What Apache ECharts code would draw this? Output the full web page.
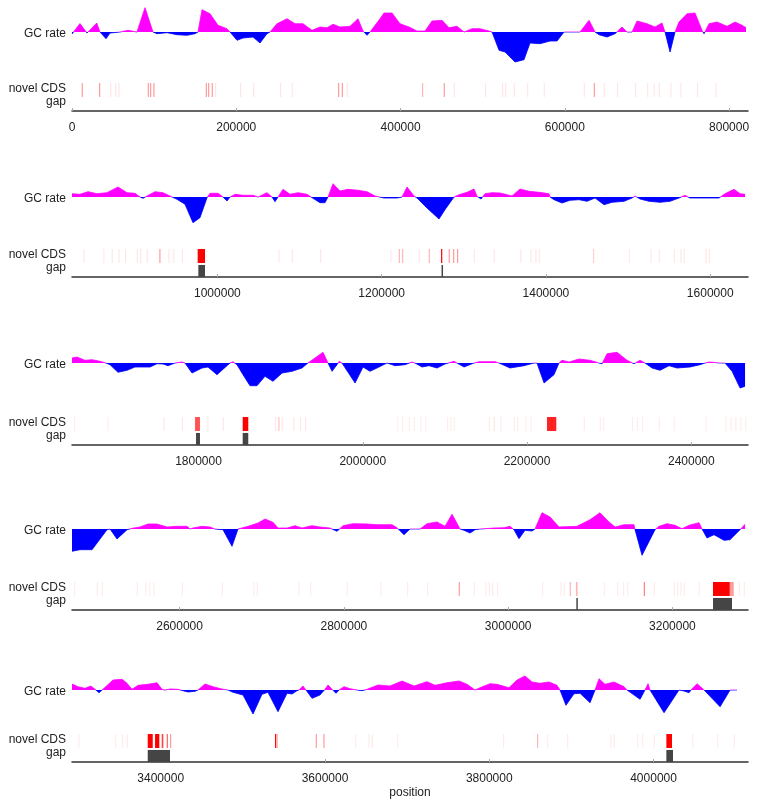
<!DOCTYPE html>
<html><head><meta charset="utf-8">
<script src="https://cdn.jsdelivr.net/npm/echarts@6/dist/echarts.min.js"></script>
<style>html,body{margin:0;padding:0;background:#fff}#c{width:757px;height:808px}</style>
</head><body><div id="c"></div>
<script>
// ---------------- data ----------------
const panelSize = 823000;
const panelStarts = [0, 823000, 1646000, 2469000, 3292000];
const tickLabels = [
  [0, 200000, 400000, 600000, 800000],
  [1000000, 1200000, 1400000, 1600000],
  [1800000, 2000000, 2200000, 2400000],
  [2600000, 2800000, 3000000, 3200000],
  [3400000, 3600000, 3800000, 4000000]
];
// GC rate deviation (percentage points) : [position, value]
const gc1 = [[0,-0.2],[9700,0.84],[18300,-0.1],[30100,0.9],[34100,0],[41400,-0.67],[46300,-0.1],[58400,0],[68200,0.17],[79100,0],[88900,2.43],[98600,0],[103500,-0.17],[115700,-0.07],[127800,-0.27],[140000,-0.33],[149800,-0.17],[153400,0],[158300,2.23],[168000,1.83],[177800,0.67],[188700,0.33],[192400,0],[200900,-0.83],[208200,-0.6],[220400,-0.5],[228900,-1.1],[237400,-0.17],[241100,0],[249600,0.83],[261800,1.33],[271500,0.83],[281200,0.83],[292200,0.17],[301900,0.5],[310500,0.43],[317800,0.77],[326300,0.5],[338500,0.57],[348200,1.33],[354300,0.1],[359200,-0.33],[362800,0],[375000,1.33],[379900,1.9],[389600,1.9],[399300,0.83],[410300,0.5],[420000,0.1],[429800,0.1],[438300,1.1],[450500,1.17],[459000,0.43],[468700,0.57],[477300,0],[479700,-0.1],[487000,0.33],[496700,0.33],[508900,0.07],[511400,0],[519900,-1.83],[527200,-2.0],[539400,-3.0],[550300,-2.77],[557600,-1.1],[569800,-1.17],[582000,-0.9],[590500,-0.9],[599000,0],[618500,0],[629500,1.17],[636800,0],[641600,-0.27],[651400,-0.5],[661100,-0.17],[663500,0],[669600,0.5],[675700,0],[678100,-0.17],[681800,0],[687900,1.1],[700100,0.83],[709800,0.5],[718300,0.9],[722000,0],[728100,-2.0],[734200,0],[739000,1.0],[748800,1.83],[758500,1.9],[767000,0.17],[769500,-0.17],[775500,0.83],[785300,1.0],[797500,0.57],[807200,1.0],[815700,0.67],[820600,0.43]];
const gc2 = [[823000,0.33],[832700,0.27],[842500,0.53],[853400,0.33],[865600,0.43],[879000,1.0],[890000,0.43],[899700,0.37],[905800,0],[909400,-0.13],[914300,0.1],[924100,0.53],[933800,0.43],[944800,0],[950800,-0.23],[960600,-0.73],[970300,-2.57],[978800,-2.07],[987400,-0.07],[991000,0.37],[1000800,0.37],[1006800,0],[1011700,-0.4],[1015400,0],[1021500,0.27],[1031200,0.17],[1043400,0.17],[1049500,0],[1060400,0.43],[1066500,0],[1070200,-0.47],[1073800,0],[1079900,0.77],[1088400,0.27],[1098200,0.43],[1109100,0.27],[1116400,-0.13],[1124900,-0.57],[1131000,-0.57],[1134700,0],[1140800,1.33],[1149300,0.6],[1159000,0.77],[1171200,0.67],[1182200,0.53],[1191900,0.1],[1194300,0],[1202900,-0.1],[1218700,-0.1],[1224800,0],[1230900,1.0],[1239400,0.1],[1243000,-0.1],[1255200,-1.1],[1269800,-2.2],[1277100,-1.27],[1288100,0],[1294200,0.23],[1303900,0.47],[1312400,0.8],[1316100,0.07],[1321000,-0.2],[1325800,0.33],[1334400,0.43],[1344100,0.4],[1358700,0.1],[1368400,0.8],[1379400,0.57],[1391600,0.47],[1403700,0.33],[1405000,0],[1409800,-0.27],[1419600,-0.6],[1429300,-0.33],[1440300,-0.27],[1450000,-0.43],[1459800,-0.1],[1470700,-0.77],[1480500,-0.53],[1495100,-0.43],[1504800,-0.1],[1508500,0.1],[1514600,-0.2],[1525500,-0.43],[1538900,-0.53],[1551100,-0.43],[1562000,-0.1],[1569300,0.17],[1575400,-0.1],[1590000,-0.1],[1610700,-0.1],[1618000,0.33],[1629000,0.77],[1636300,0.33],[1642400,0.27]];
const gc3 = [[1646000,0.5],[1652100,0.6],[1661800,0.27],[1670400,0.33],[1680100,0.17],[1687400,0],[1692300,-0.17],[1702000,-0.93],[1713000,-0.73],[1722700,-0.4],[1741000,-0.4],[1749500,-0.07],[1751900,0.07],[1756800,-0.1],[1762900,-0.27],[1771400,0],[1779900,0.1],[1783600,0],[1792100,-1.0],[1804300,-0.5],[1811600,-0.4],[1822500,-1.17],[1838400,0],[1842000,0.13],[1846900,-0.17],[1854200,-1.17],[1862700,-2.27],[1871200,-2.27],[1881000,-1.33],[1890700,-1.83],[1901700,-1.0],[1913900,-0.83],[1926000,-0.5],[1933300,0],[1951600,1.07],[1957700,0],[1962600,-0.83],[1968600,-0.17],[1971100,0.17],[1974700,0],[1990600,-2.0],[2000300,-0.4],[2008800,-0.83],[2017300,-0.5],[2029500,0],[2039300,-0.27],[2051400,-0.17],[2060000,0.1],[2063600,0],[2072100,-0.4],[2080700,-0.27],[2090400,-0.5],[2100100,-0.1],[2111100,0.17],[2114700,0],[2123300,-0.4],[2135400,0],[2141500,0.13],[2161000,0.13],[2165900,0],[2179300,-0.5],[2196300,-0.27],[2208500,0],[2212100,0],[2220700,-2.0],[2232800,-1.17],[2238900,0],[2242600,0.27],[2251100,0.1],[2263300,0.4],[2276700,0.27],[2287600,0],[2291300,-0.07],[2297400,0.93],[2309500,1.07],[2321700,0.27],[2330200,-0.07],[2337500,0.27],[2343600,0],[2352200,-0.5],[2361900,-0.73],[2372800,-0.27],[2382600,-0.5],[2398400,-0.4],[2410600,-0.17],[2416700,0],[2421500,0.1],[2434900,0],[2441000,0],[2449600,-0.83],[2459300,-2.5],[2465400,-2.33]];
const gc4 = [[2469000,-2.23],[2478700,-2.07],[2493400,-2.07],[2511600,-0.07],[2515300,0],[2523800,-1.0],[2536000,-0.07],[2542100,0.07],[2551800,0.2],[2561500,0.5],[2572500,0.5],[2584700,0.2],[2596800,0.27],[2609000,0.27],[2612700,0],[2616300,0.1],[2627300,0.27],[2637000,0.2],[2643100,0],[2652800,-0.07],[2663800,-1.73],[2671100,0],[2683300,0.27],[2695500,0.6],[2704000,1.0],[2713700,0.67],[2719800,0.1],[2730800,0.1],[2740500,0.33],[2749000,0.1],[2761200,0.33],[2770900,0.2],[2783100,0.1],[2791600,-0.23],[2799000,0.33],[2811100,0.53],[2828200,0.5],[2840300,0.43],[2858600,0.43],[2864700,0.13],[2867100,-0.07],[2873200,-0.57],[2880500,0],[2892700,0],[2901200,0.53],[2913400,0.7],[2923100,0.27],[2931700,1.47],[2941400,0],[2946300,-0.13],[2953600,-0.4],[2959700,-0.07],[2965700,0],[2982800,0.1],[2995000,0.13],[3002300,0.27],[3007100,-0.07],[3013200,-0.97],[3020500,-0.13],[3029100,-0.2],[3032700,0],[3041200,1.63],[3051000,1.2],[3061900,0.2],[3083800,0.27],[3099700,0.93],[3111800,1.63],[3122800,0.7],[3130100,0.2],[3141100,0.43],[3153200,0.43],[3154500,-0.07],[3163000,-2.63],[3178800,-0.07],[3183700,0.27],[3193400,0.53],[3203200,0.37],[3211700,0.03],[3220200,0.37],[3232400,0.63],[3236000,0],[3242100,-0.9],[3250600,-0.57],[3262800,-1.13],[3270100,-1.07],[3282300,-0.07],[3288400,0.47]];
const gc5 = [[3292000,0.6],[3299300,0.33],[3307800,0.17],[3315100,0.4],[3320000,0.07],[3324900,-0.27],[3329700,0.07],[3341900,1.0],[3352900,1.07],[3359000,0.67],[3365100,0.07],[3372400,0.47],[3384500,0.57],[3395500,0.73],[3401600,0.07],[3405200,0],[3411300,0.1],[3421100,0.07],[3427100,-0.07],[3433200,-0.2],[3441800,-0.13],[3445400,0],[3453900,0.6],[3463700,0.33],[3475800,0.07],[3481900,0],[3488000,-0.23],[3500200,-0.5],[3512400,-2.4],[3523300,-0.43],[3530600,-0.23],[3542800,-2.17],[3553800,-0.33],[3559900,-0.4],[3565900,-0.07],[3568400,0],[3573200,0.4],[3576900,0],[3584200,-0.83],[3593900,-0.5],[3600000,0.07],[3603700,0.5],[3608600,0.07],[3613400,-0.33],[3617100,0],[3623200,0.33],[3630500,0.13],[3639000,0],[3645100,-0.07],[3651200,0.07],[3664600,0.5],[3679200,0.4],[3693800,0.9],[3708400,0.4],[3724200,0.83],[3734000,0.47],[3748600,0.73],[3763200,0.9],[3772900,0.57],[3782700,0],[3785100,-0.13],[3788700,0.23],[3800900,0.63],[3809400,0.57],[3824000,0.23],[3833800,1.0],[3843500,1.4],[3852100,0.8],[3861800,0.67],[3872700,0.8],[3882500,0.47],[3886100,0],[3893400,-1.53],[3903200,-0.37],[3910500,-0.33],[3922700,-1.27],[3928800,0],[3933600,1.13],[3940900,0.57],[3951900,0.8],[3964100,0.33],[3967700,0],[3983600,-0.93],[3989600,0],[3993300,0.63],[3995700,0],[4012800,-2.27],[4031000,0],[4037100,-0.1],[4043200,-0.27],[4046900,0.13],[4053000,0.63],[4061500,0],[4081000,-1.67],[4093200,0],[4101600,0]];
// novel CDS : [start, end, score]
const novelCDS = [
[11800,12800,0.5],[32900,33900,0.5],[46300,47300,0.18],[52400,53400,0.18],[56400,57400,0.18],[92200,93200,0.5],[95000,96000,0.5],[99000,100000,0.5],[162800,163800,0.5],[165600,166600,0.5],[170100,171100,0.5],[174100,175100,0.18],[204500,205500,0.18],[220400,221400,0.18],[253200,254200,0.18],[267500,268500,0.18],[323900,324900,0.5],[328400,329400,0.5],[334400,335400,0.18],[426100,427100,0.4],[452500,453500,0.5],[464700,465700,0.18],[502800,503800,0.18],[523500,524500,0.18],[527200,528200,0.18],[537800,538800,0.18],[554000,555000,0.18],[574300,575300,0.18],[623000,624000,0.18],[635200,636200,0.5],[647300,648300,0.18],[663500,664500,0.18],[685400,686400,0.18],[700100,701100,0.18],[708200,709200,0.18],[714300,715300,0.18],[728400,729400,0.18],[740600,741600,0.18],[760900,761900,0.18],[783200,784200,0.18],
[836800,837800,0.18],[861100,862100,0.18],[871300,872300,0.18],[879400,880400,0.18],[887500,888500,0.18],[901800,902800,0.18],[905800,906800,0.18],[913900,914900,0.18],[929300,930300,0.5],[940200,941200,0.18],[946300,947300,0.18],[956600,957600,0.18],[976000,984900,1],[1074200,1075200,0.18],[1090500,1091500,0.18],[1124900,1125900,0.18],[1210500,1211500,0.18],[1220800,1221800,0.4],[1224800,1225800,0.4],[1245100,1246100,0.18],[1257300,1258300,0.4],[1272300,1273800,1],[1281600,1282600,0.5],[1286900,1287900,0.5],[1291700,1292700,0.5],[1312100,1313100,0.18],[1336400,1337400,0.18],[1368800,1369800,0.18],[1381000,1382000,0.18],[1387100,1388100,0.18],[1391200,1392200,0.18],[1457300,1458300,0.3],[1500800,1501800,0.18],[1527100,1528100,0.18],[1537300,1538300,0.18],[1555600,1556600,0.18],[1563600,1564600,0.18],[1567700,1568700,0.18],[1594000,1595000,0.18],[1598200,1599200,0.18],
[1648400,1649400,0.15],[1689000,1690000,0.15],[1757200,1758200,0.18],[1779600,1780600,0.18],[1795800,1801800,0.75],[1810700,1811700,0.18],[1829500,1830500,0.18],[1853800,1860600,1],[1893200,1894200,0.18],[1897200,1898200,0.35],[1901300,1902300,0.18],[1915400,1916400,0.18],[1923600,1924600,0.18],[1929700,1930700,0.18],[2041700,2042700,0.15],[2047800,2048800,0.15],[2055900,2056900,0.15],[2062000,2063000,0.15],[2070100,2071100,0.15],[2076100,2077100,0.15],[2102600,2103600,0.15],[2106600,2107600,0.15],[2110700,2111700,0.15],[2153300,2154300,0.15],[2159400,2160400,0.2],[2167500,2168500,0.15],[2183800,2184800,0.15],[2187800,2188800,0.15],[2197900,2198900,0.15],[2204000,2205000,0.15],[2224300,2235600,0.9],[2269000,2270000,0.15],[2288500,2289500,0.15],[2292500,2293500,0.15],[2327800,2328800,0.15],[2333900,2334900,0.15],[2340000,2341000,0.15],[2360300,2361300,0.15],[2378600,2379600,0.15],[2417100,2418100,0.15],[2441400,2442400,0.15],[2447500,2448500,0.15],[2453600,2454600,0.15],[2459700,2460700,0.15],[2465400,2466400,0.15],
[2471400,2472400,0.15],[2499100,2500100,0.15],[2505200,2506200,0.15],[2547800,2548800,0.15],[2557900,2558900,0.15],[2563100,2564100,0.15],[2568000,2569000,0.15],[2602600,2603600,0.15],[2651300,2652300,0.15],[2689700,2690700,0.15],[2693900,2694900,0.15],[2744500,2745500,0.15],[2758800,2759800,0.15],[2803400,2804400,0.15],[2844400,2845400,0.15],[2876900,2877900,0.15],[2901200,2902200,0.15],[2939800,2940800,0.5],[2958100,2959100,0.15],[2972200,2973200,0.15],[2976300,2977300,0.15],[2980400,2981400,0.15],[2986400,2987400,0.15],[3041200,3042200,0.15],[3063500,3064500,0.15],[3067600,3068600,0.15],[3074900,3075900,0.4],[3082500,3084500,0.4],[3116400,3117400,0.15],[3132500,3133500,0.15],[3139800,3140800,0.15],[3144700,3145700,0.15],[3165100,3166100,0.6],[3177200,3178200,0.15],[3201600,3202600,0.15],[3205600,3206600,0.15],[3209600,3210600,0.15],[3213800,3214800,0.15],[3232000,3233000,0.15],[3249400,3269800,1],[3269800,3274600,0.5],[3280700,3281700,0.15],[3286800,3287800,0.15],
[3299700,3300700,0.15],[3344400,3345400,0.15],[3352500,3353500,0.15],[3358600,3359600,0.15],[3384200,3390300,1],[3393100,3398300,1],[3401200,3403200,0.8],[3407300,3408500,0.7],[3411300,3412300,0.5],[3539200,3540400,1],[3541200,3542200,0.4],[3588700,3589700,0.5],[3598000,3599000,0.5],[3636600,3637600,0.15],[3652800,3653800,0.15],[3656900,3657900,0.15],[3687700,3688700,0.15],[3816700,3817700,0.15],[3858100,3859100,0.4],[3870300,3871300,0.15],[3894700,3895700,0.15],[3947400,3948400,0.15],[3951500,3952500,0.15],[3979900,3980900,0.15],[3986000,3987000,0.15],[4000200,4001200,0.15],[4015600,4022500,1],[4046900,4047900,0.15],[4077300,4078300,0.15],[4097600,4098600,0.15]
];
// assembly gaps : [start, end]
const gaps = [[976800,984900],[1272900,1274700],[1797000,1801800],[1853800,1860600],[3083000,3084500],[3249400,3272500],[3384200,3411300],[4015600,4023700]];
const gcPanels = [gc1, gc2, gc3, gc4, gc5];

// ---------------- layout ----------------
const FONT = '"Liberation Sans", Arial, Helvetica, sans-serif';
const baseY = [32, 197, 363, 529, 690];
const axisY = [111, 277, 445, 610, 762];
const LEFT = 72, WIDTH = 676, HALF = 32;

const grid = [], xAxis = [], yAxis = [], series = [], graphic = [];
function cdsItem(params, api) {
  const p0 = api.coord([api.value(0), 2]);
  const p1 = api.coord([api.value(1), 1]);
  const w = Math.max(p1[0] - p0[0], 1.2);
  return {type: 'rect', shape: {x: p0[0], y: p0[1], width: w, height: p1[1] - p0[1]},
          style: {fill: '#ff0000', opacity: Math.pow(api.value(2), 1.35)}};
}
function gapItem(params, api) {
  const p0 = api.coord([api.value(0), 0.86]);
  const p1 = api.coord([api.value(1), 0]);
  const w = Math.max(p1[0] - p0[0], 1.5);
  return {type: 'rect', shape: {x: p0[0], y: p0[1], width: w, height: p1[1] - p0[1]},
          style: {fill: '#454545'}};
}
function signFill(b) {
  // magenta above the zero line, blue below (zero is the grid's middle)
  return {type: 'linear', x: 0, y: b - HALF, x2: 0, y2: b + HALF, global: true,
    colorStops: [{offset: 0, color: '#ff00ff'}, {offset: 0.5, color: '#ff00ff'},
                 {offset: 0.5, color: '#0000ff'}, {offset: 1, color: '#0000ff'}]};
}
for (let i = 0; i < 5; i++) {
  const lo = panelStarts[i], hi = lo + panelSize;
  grid.push({left: LEFT, width: WIDTH, top: baseY[i] - HALF, height: 2 * HALF});
  xAxis.push({type: 'value', gridIndex: 2 * i, min: lo, max: hi, show: false});
  yAxis.push({type: 'value', gridIndex: 2 * i, min: -3.2, max: 3.2, show: false});
  grid.push({left: LEFT, width: WIDTH, top: axisY[i] - 28, height: 28});
  const ticks = tickLabels[i];
  xAxis.push({
    type: 'value', gridIndex: 2 * i + 1, min: lo, max: hi,
    axisLine: {show: true, onZero: false, lineStyle: {color: '#333', width: 1.5}},
    axisTick: {show: true, inside: true, length: 3, lineStyle: {color: '#aaa'}, customValues: ticks},
    axisLabel: {show: true, margin: 11, fontSize: 12, color: '#222', fontFamily: FONT,
                customValues: ticks, formatter: v => String(v)},
    splitLine: {show: false},
    name: i === 4 ? 'position' : '', nameLocation: 'middle', nameGap: 25,
    nameTextStyle: {fontSize: 12, color: '#222', fontFamily: FONT}
  });
  yAxis.push({type: 'value', gridIndex: 2 * i + 1, min: 0, max: 2, show: false});

  const fill = signFill(baseY[i]);
  series.push({
    type: 'line', xAxisIndex: 2 * i, yAxisIndex: 2 * i, data: gcPanels[i],
    showSymbol: false, symbol: 'none', silent: true,
    lineStyle: {width: 0.8, color: fill}, itemStyle: {color: '#ff00ff'},
    areaStyle: {opacity: 1, origin: 0, color: fill}
  });
  series.push({
    type: 'custom', xAxisIndex: 2 * i + 1, yAxisIndex: 2 * i + 1, renderItem: cdsItem,
    encode: {x: [0, 1], y: 2}, silent: true,
    data: novelCDS.filter(d => d[0] >= lo && d[0] < hi)
  });
  series.push({
    type: 'custom', xAxisIndex: 2 * i + 1, yAxisIndex: 2 * i + 1, renderItem: gapItem,
    encode: {x: [0, 1]}, silent: true,
    data: gaps.filter(d => d[0] >= lo && d[0] < hi)
  });

  const lab = (txt, y) => ({type: 'text', right: 757 - 66, top: y,
    style: {text: txt, font: '12px ' + FONT, fill: '#222', textAlign: 'right'}});
  graphic.push(lab('GC rate', baseY[i] - 4), lab('novel CDS', axisY[i] - 28), lab('gap', axisY[i] - 15));
}

const chart = echarts.init(document.getElementById('c'), null, {renderer: 'canvas'});
chart.setOption({animation: false, backgroundColor: '#fff', grid, xAxis, yAxis, series, graphic});
</script></body></html>
